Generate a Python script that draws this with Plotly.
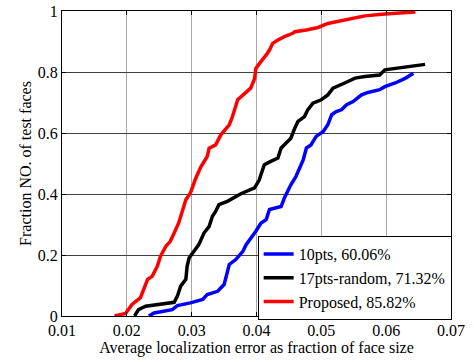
import plotly.graph_objects as go

# Series: 10pts, 60.06%
x_10pts = [0.0234, 0.0242, 0.0270, 0.0278, 0.0298, 0.0317, 0.0324, 0.0340, 0.0350, 0.0355,
           0.0358, 0.0368, 0.0379, 0.0384, 0.0394, 0.0399, 0.0407, 0.0415, 0.0420, 0.0428,
           0.0438, 0.0443, 0.0448, 0.0453, 0.0461, 0.0466, 0.0472, 0.0477, 0.0484, 0.0492,
           0.0503, 0.0510, 0.0516, 0.0523, 0.0531, 0.0539, 0.0549, 0.0562, 0.0572, 0.0590,
           0.0598, 0.0614, 0.0630, 0.0642]
y_10pts = [0.000, 0.010, 0.021, 0.034, 0.043, 0.054, 0.070, 0.081, 0.103, 0.141,
           0.169, 0.185, 0.212, 0.234, 0.261, 0.278, 0.305, 0.316, 0.349, 0.354,
           0.359, 0.387, 0.409, 0.430, 0.458, 0.480, 0.512, 0.551, 0.561, 0.589,
           0.605, 0.627, 0.660, 0.670, 0.676, 0.693, 0.703, 0.725, 0.733, 0.742,
           0.752, 0.764, 0.780, 0.796]

# Series: 17pts-random, 71.32%
x_17pts = [0.0212, 0.0218, 0.0229, 0.0247, 0.0273, 0.0278, 0.0283, 0.0291, 0.0293, 0.0296,
           0.0304, 0.0311, 0.0319, 0.0327, 0.0332, 0.0337, 0.0342, 0.0355, 0.0376, 0.0397,
           0.0404, 0.0412, 0.0422, 0.0433, 0.0438, 0.0446, 0.0453, 0.0459, 0.0464, 0.0474,
           0.0479, 0.0487, 0.0500, 0.0510, 0.0518, 0.0536, 0.0552, 0.0567, 0.0590, 0.0598,
           0.0624, 0.0660]
y_17pts = [0.000, 0.021, 0.032, 0.038, 0.045, 0.065, 0.098, 0.120, 0.163, 0.190,
           0.212, 0.234, 0.272, 0.294, 0.327, 0.343, 0.365, 0.376, 0.401, 0.420,
           0.445, 0.496, 0.507, 0.518, 0.551, 0.567, 0.583, 0.616, 0.638, 0.654,
           0.676, 0.698, 0.709, 0.725, 0.747, 0.764, 0.780, 0.785, 0.790, 0.807,
           0.814, 0.825]

# Series: Proposed, 85.82%
x_prop = [0.0181, 0.0198, 0.0208, 0.0221, 0.0232, 0.0239, 0.0247, 0.0252, 0.0260, 0.0267,
          0.0273, 0.0280, 0.0291, 0.0298, 0.0306, 0.0314, 0.0324, 0.0327, 0.0337, 0.0345,
          0.0358, 0.0363, 0.0371, 0.0379, 0.0391, 0.0397, 0.0399, 0.0405, 0.0412, 0.0415,
          0.0420, 0.0425, 0.0433, 0.0443, 0.0456, 0.0459, 0.0477, 0.0495, 0.0510, 0.0536,
          0.0567, 0.0598, 0.0624, 0.0645]
y_prop = [0.000, 0.008, 0.038, 0.060, 0.120, 0.130, 0.163, 0.196, 0.228, 0.245,
          0.272, 0.305, 0.381, 0.403, 0.450, 0.488, 0.523, 0.550, 0.561, 0.594,
          0.627, 0.654, 0.709, 0.725, 0.747, 0.778, 0.812, 0.829, 0.845, 0.856,
          0.872, 0.894, 0.905, 0.916, 0.927, 0.932, 0.938, 0.946, 0.959, 0.970,
          0.984, 0.990, 0.994, 0.997]

names = ["10pts, 60.06%", "17pts-random, 71.32%", "Proposed, 85.82%"]
colors = ["#0000ff", "#000000", "#ff0000"]

x_ticks = [0.01, 0.02, 0.03, 0.04, 0.05, 0.06, 0.07]
y_ticks = [0, 0.2, 0.4, 0.6, 0.8, 1]

FONT = "Liberation Serif"
FS = 16

fig = go.Figure()
for xs, ys, nm, c in zip([x_10pts, x_17pts, x_prop], [y_10pts, y_17pts, y_prop], names, colors):
    fig.add_trace(go.Scatter(x=xs, y=ys, mode="lines", name=nm,
                             line=dict(color=c, width=3.5)))

fig.update_layout(
    width=474, height=362,
    margin=dict(l=62, r=23, t=11, b=46, autoexpand=False),
    paper_bgcolor="white", plot_bgcolor="white",
    font=dict(family=FONT, size=FS, color="black"),
    showlegend=True,
    legend=dict(x=0.503, y=0.262, xanchor="left", yanchor="top",
                bgcolor="white", bordercolor="black", borderwidth=1,
                font=dict(family=FONT, size=FS, color="black"),
                tracegroupgap=0),
)
fig.update_xaxes(range=[0.01, 0.07], tickvals=x_ticks, tickformat=".2f",
                 automargin=False,
                 showline=True, linecolor="black", linewidth=1, mirror="ticks",
                 ticks="inside", ticklen=4, tickcolor="black",
                 showgrid=True, gridcolor="#a8a8a8", gridwidth=1, zeroline=False,
                 tickfont=dict(family=FONT, size=FS),
                 title=dict(text="Average localization error as fraction of face size",
                            standoff=0, font=dict(family=FONT, size=FS)))
fig.update_yaxes(range=[0, 1], tickvals=y_ticks,
                 automargin=False,
                 showline=True, linecolor="black", linewidth=1, mirror="ticks",
                 ticks="inside", ticklen=4, tickcolor="black",
                 showgrid=True, gridcolor="#404040", gridwidth=1, zeroline=False,
                 tickfont=dict(family=FONT, size=FS),
                 title=dict(text="Fraction NO. of test faces", standoff=2,
                            font=dict(family=FONT, size=FS)))

fig.write_html("out.html", config={"displayModeBar": False},
               post_script="document.body.style.margin='0px';")
